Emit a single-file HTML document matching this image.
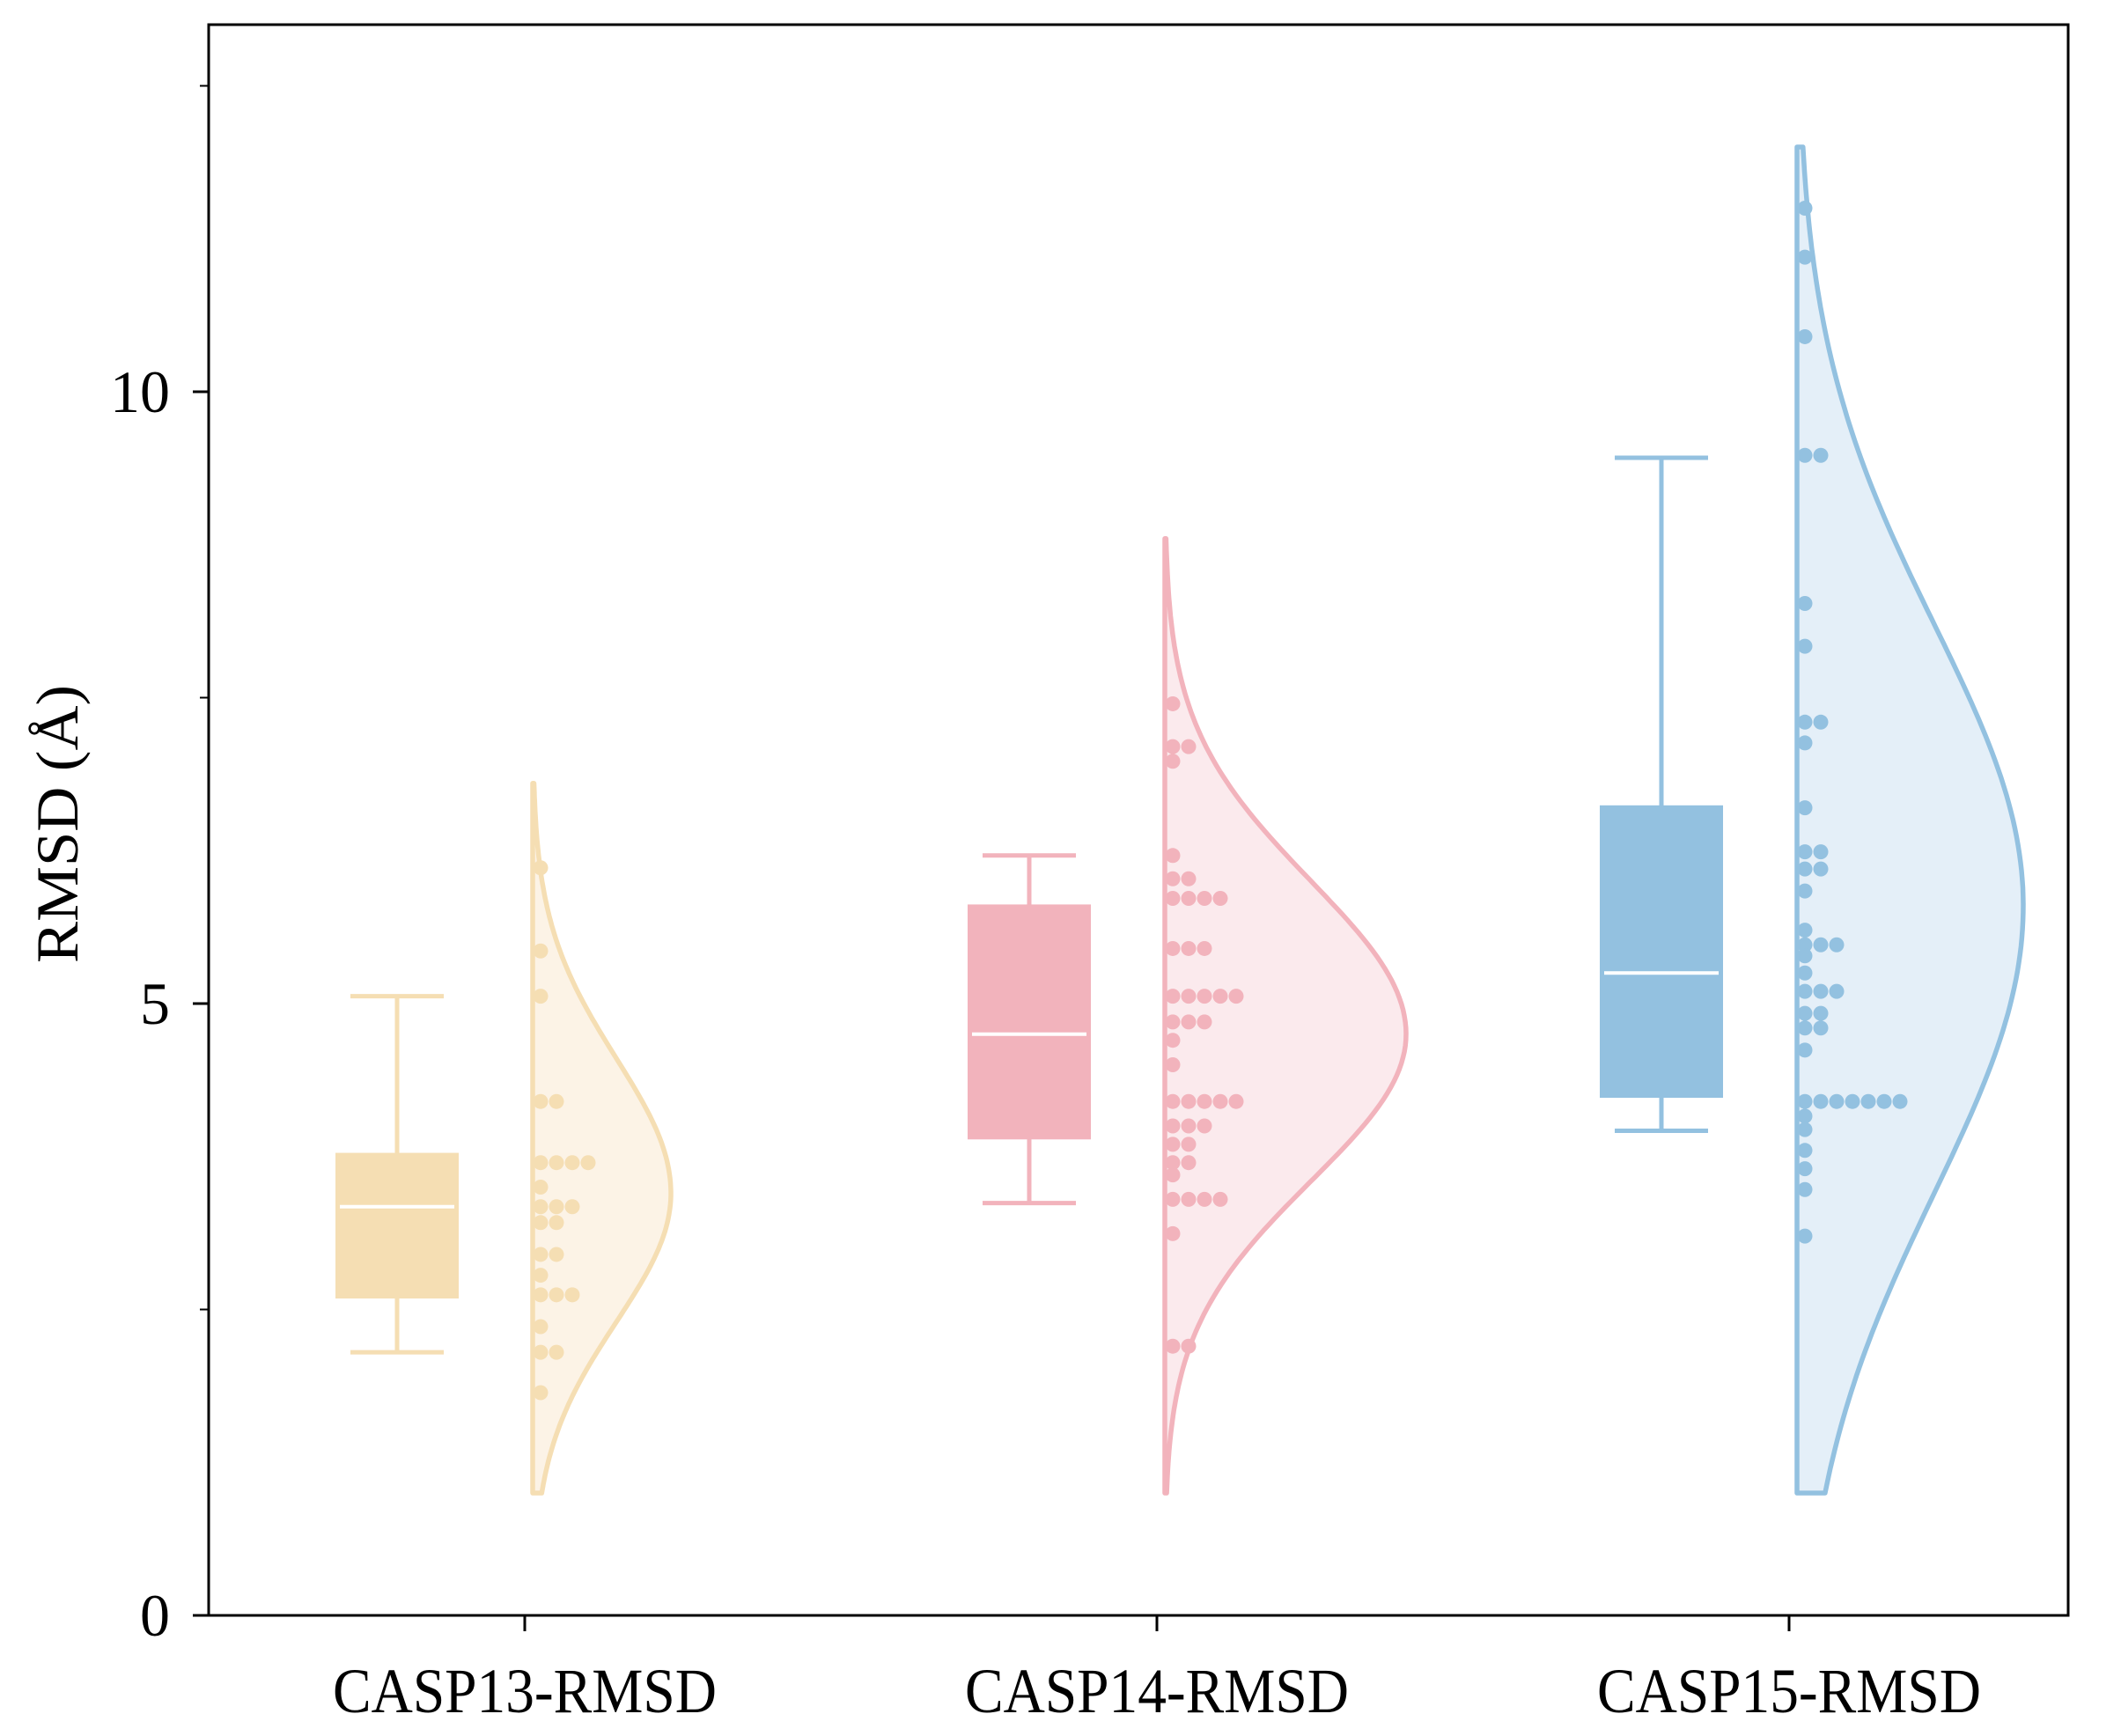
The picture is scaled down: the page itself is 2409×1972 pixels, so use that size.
<!DOCTYPE html>
<html><head><meta charset="utf-8"><style>
html,body{margin:0;padding:0;background:#fff}
svg{display:block}
text{font-family:"Liberation Serif","Noto Serif CJK SC",serif;fill:#000}
</style></head><body>
<svg id="chart" width="2409" height="1972" viewBox="0 0 2409 1972" xmlns="http://www.w3.org/2000/svg">
<rect x="0" y="0" width="2409" height="1972" fill="#fff"/>
<g id="plot"></g>
</svg>
<script>
const categories = ["CASP13-RMSD","CASP14-RMSD","CASP15-RMSD"];
const boxQ1 = [2.59, 3.89, 4.23];
const boxMedian = [3.34, 4.75, 5.25];
const boxQ3 = [3.78, 5.81, 6.62];
const whiskerLow = [2.15, 3.37, 3.96];
const whiskerHigh = [5.06, 6.21, 9.46];
const violinMin = [1.0, 1.0, 1.0];
const violinMax = [6.8, 8.8, 12.0];
const violinCenter = [3.45, 4.75, 5.8];
const violinSigmaUp = [1.1, 1.25, 2.3];
const violinSigmaDown = [1.05, 1.2, 2.35];
const violinPeakWidth = [157, 274, 257];
const points13 = [6.11,5.43,5.06,4.2,4.2,3.7,3.7,3.7,3.7,3.5,3.34,3.34,3.34,3.21,3.21,2.95,2.95,2.78,2.62,2.62,2.62,2.36,2.15,2.15,1.82];
const points14 = [7.45,7.1,7.1,6.98,6.21,6.02,6.02,5.86,5.86,5.86,5.86,5.45,5.45,5.45,5.06,5.06,5.06,5.06,5.06,4.85,4.85,4.85,4.7,4.5,4.2,4.2,4.2,4.2,4.2,4.0,4.0,4.0,3.85,3.85,3.7,3.7,3.6,3.4,3.4,3.4,3.4,3.12,2.2,2.2];
const points15 = [11.5,11.1,10.45,9.48,9.48,8.27,7.92,7.3,7.3,7.13,6.6,6.24,6.24,6.1,6.1,5.92,5.6,5.48,5.48,5.48,5.39,5.25,5.1,5.1,5.1,4.92,4.92,4.8,4.8,4.62,4.2,4.2,4.2,4.2,4.2,4.2,4.2,4.08,3.97,3.8,3.65,3.48,3.1];
const pointSets = [points13, points14, points15];
const yTickValues = [0,5,10];
const yTickLabels = ["0","5","10"];
const yMinorTicks = [2.5,7.5,12.5];

const strokeCol = ["#f5deb3","#f2b3bc","#93c1e0"];
const fillCol = ["#fcf3e6","#fbeaed","#e4eff8"];
const L=237,R=2349,T=28,B=1835;
const Y0=1835, PPU=139.0;
const y = v => Y0 - v*PPU;
const xTick = i => 596 + i*718;
const NS="http://www.w3.org/2000/svg";
const g=document.getElementById('plot');
function mk(tag,attrs,parent){const e=document.createElementNS(NS,tag);for(const k in attrs)e.setAttribute(k,attrs[k]);(parent||g).appendChild(e);return e;}

categories.forEach((c,i)=>{
  const cx=xTick(i), bx=cx-145, vx=cx+9;
  const grp=mk('g',{});
  
  
  const n=160; let d='M'+vx+','+y(violinMin[i]);
  for(let k=0;k<=n;k++){const v=violinMin[i]+(violinMax[i]-violinMin[i])*k/n;
    const s=v>violinCenter[i]?violinSigmaUp[i]:violinSigmaDown[i];
    const w=violinPeakWidth[i]*Math.exp(-Math.pow(v-violinCenter[i],2)/(2*s*s));
    d+=' L'+(vx+w).toFixed(1)+','+y(v).toFixed(1);}
  d+=' L'+vx+','+y(violinMax[i])+' Z';
  const vio=mk('path',{d:d,fill:fillCol[i],stroke:strokeCol[i],'stroke-width':5.5,'stroke-linejoin':'round'},grp);
  
  
  const wl=mk('line',{x1:bx,x2:bx,y1:y(whiskerHigh[i]),y2:y(whiskerLow[i]),stroke:strokeCol[i],'stroke-width':5},grp);
  
  
  [whiskerHigh[i],whiskerLow[i]].forEach(v=>{const cap=mk('line',{x1:bx-53,x2:bx+53,y1:y(v),y2:y(v),stroke:strokeCol[i],'stroke-width':5},grp);
    
    });
  const box=mk('rect',{x:bx-70,y:y(boxQ3[i]),width:140,height:y(boxQ1[i])-y(boxQ3[i]),fill:strokeCol[i]},grp);
  
  
  const med=mk('line',{x1:bx-65,x2:bx+65,y1:y(boxMedian[i]),y2:y(boxMedian[i]),stroke:'#fff','stroke-width':4},grp);
  
  
  const counts={};
  pointSets[i].forEach(v=>{const key=v.toFixed(2);const k=counts[key]||0;counts[key]=k+1;
    const p=mk('circle',{cx:vx+9+k*18,cy:y(v),r:8.5,fill:strokeCol[i]},grp);
    
    });
  const t=mk('line',{x1:cx,x2:cx,y1:B,y2:B+18,stroke:'#000','stroke-width':3});
  
  
  const lb=mk('text',{x:cx,y:1945,'text-anchor':'middle','font-size':72,textLength:436,lengthAdjust:'spacingAndGlyphs'});
  lb.textContent=c;
  
  
});
const fr=mk('rect',{x:L,y:T,width:R-L,height:B-T,fill:'none',stroke:'#000','stroke-width':3});


yTickValues.forEach((v,j)=>{
  const t=mk('line',{x1:L-18,x2:L,y1:y(v),y2:y(v),stroke:'#000','stroke-width':3});
  
  
  const lb=mk('text',{x:193,y:y(v)+23,'text-anchor':'end','font-size':68});
  lb.textContent=yTickLabels[j];
  
  
});
yMinorTicks.forEach(v=>{
  const t=mk('line',{x1:L-10,x2:L,y1:y(v),y2:y(v),stroke:'#000','stroke-width':2});
  
  
});
const yl=mk('text',{x:0,y:0,'text-anchor':'middle','font-size':68,transform:'translate(88,936) rotate(-90)',textLength:316,lengthAdjust:'spacingAndGlyphs'});
yl.textContent='RMSD (Å)';


</script>
</body></html>
